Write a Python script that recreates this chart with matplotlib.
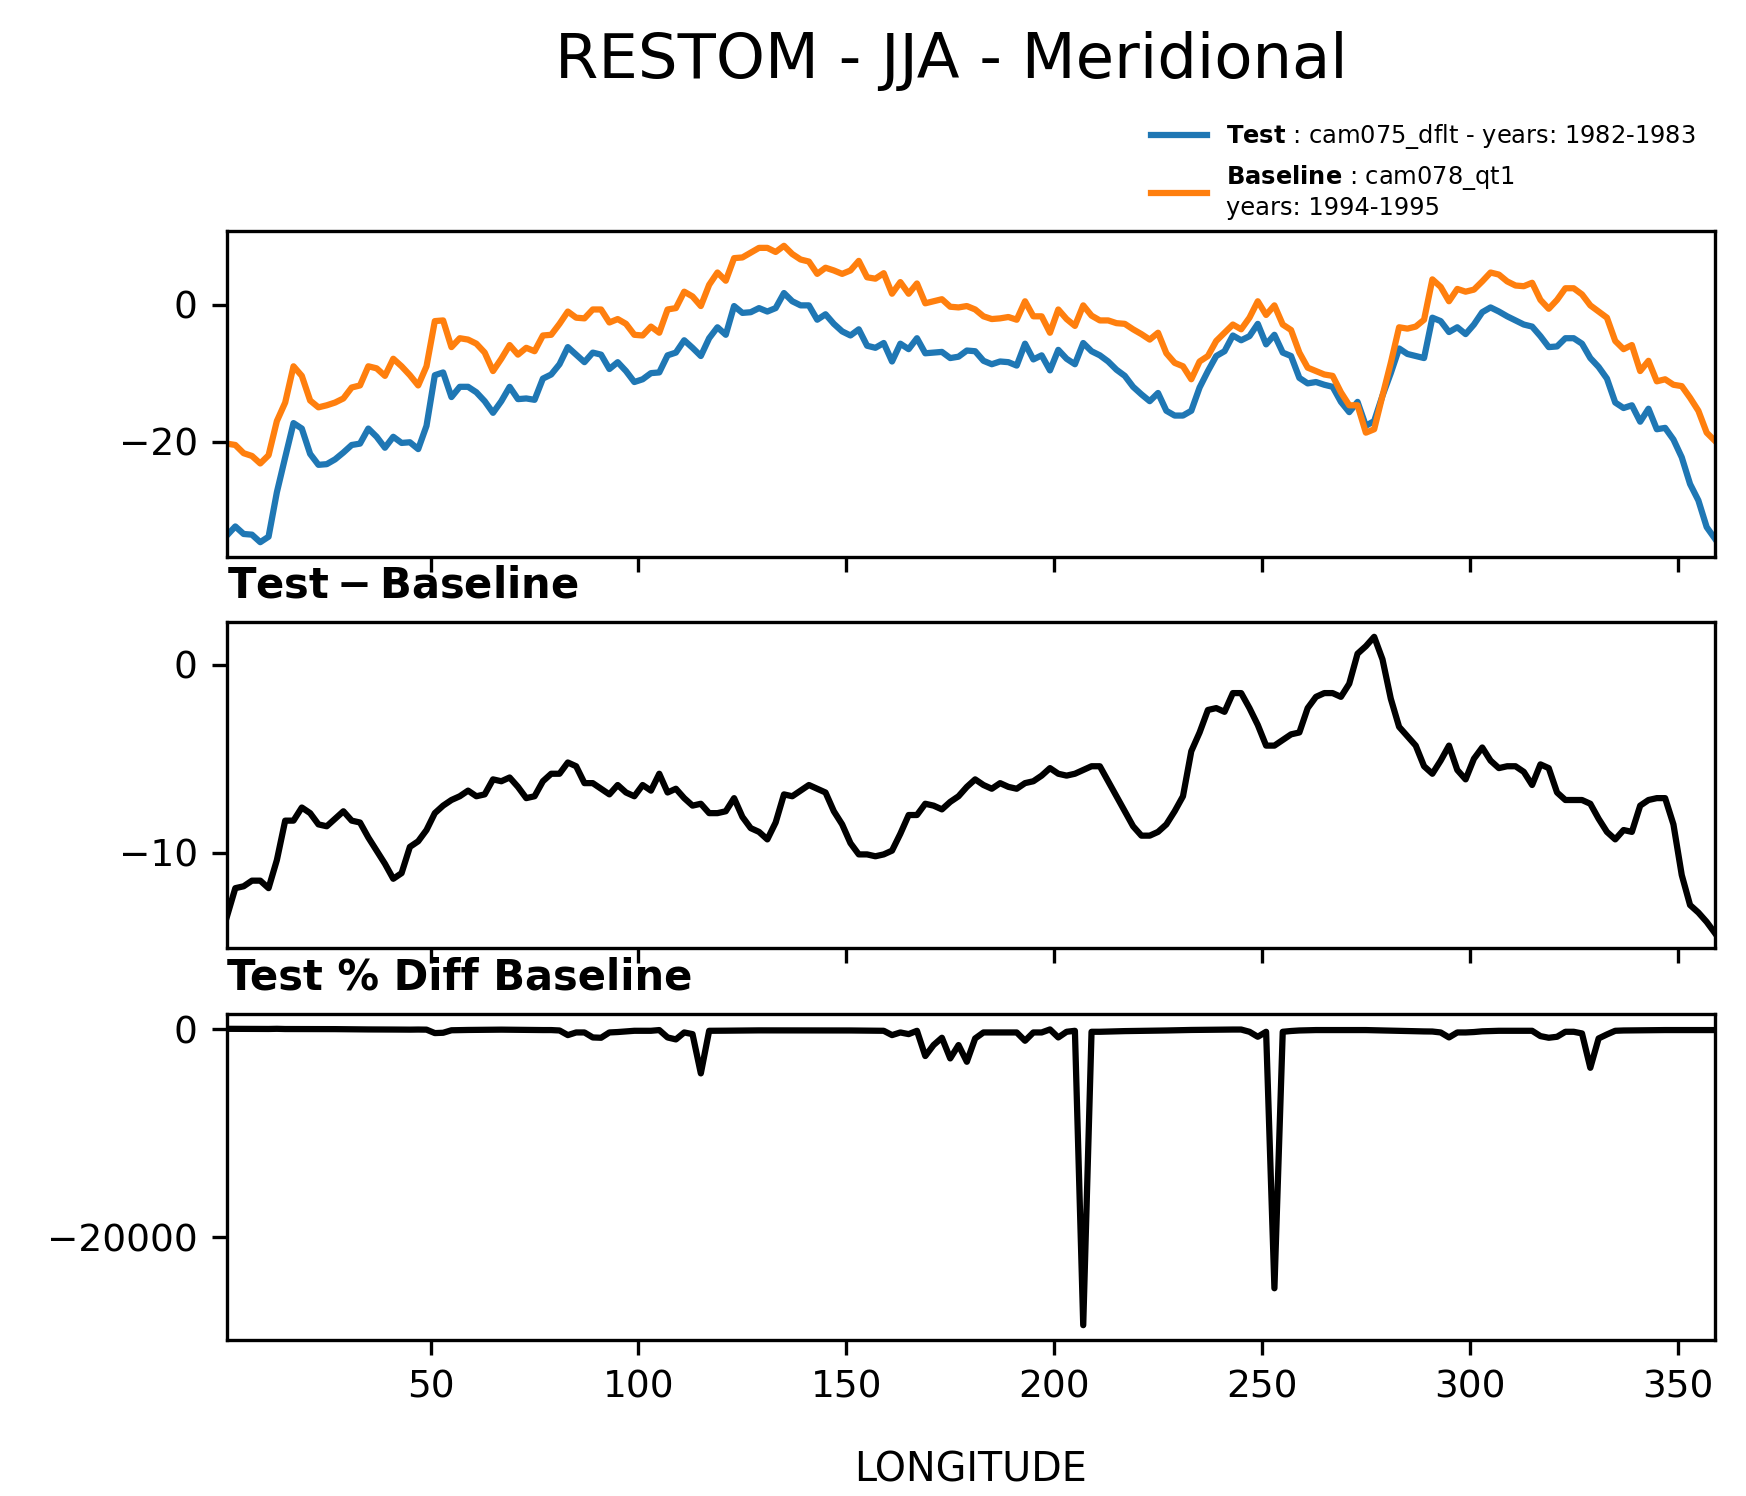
import matplotlib
matplotlib.use("Agg")
import matplotlib.pyplot as plt
import numpy as np

# longitude grid (2 degree spacing)
lon = np.arange(1, 360, 2)

# RESTOM, test case (blue)
test = [
    -33.7, -32.4, -33.5, -33.6, -34.7, -33.9, -27.4, -22.3, -17.3, -18.1,
    -21.8, -23.4, -23.3, -22.6, -21.6, -20.5, -20.3, -18.1, -19.3, -20.9,
    -19.3, -20.2, -20.1, -21.1, -17.7, -10.3, -9.9, -13.5, -12.0, -12.0,
    -12.8, -14.1, -15.8, -14.1, -12.0, -13.8, -13.7, -13.9, -10.8, -10.2,
    -8.7, -6.2, -7.3, -8.4, -7.0, -7.3, -9.4, -8.4, -9.7, -11.3,
    -10.9, -10.0, -9.9, -7.4, -7.0, -5.2, -6.3, -7.5, -4.9, -3.3,
    -4.4, -0.2, -1.2, -1.1, -0.5, -1.0, -0.5, 1.7, 0.5, -0.1,
    -0.1, -2.2, -1.4, -2.8, -3.9, -4.5, -3.6, -6.0, -6.3, -5.6,
    -8.3, -5.7, -6.5, -4.9, -7.1, -7.0, -6.9, -7.8, -7.6, -6.7,
    -6.8, -8.2, -8.7, -8.3, -8.4, -8.9, -5.7, -8.0, -7.4, -9.6,
    -6.6, -7.9, -8.7, -5.6, -6.8, -7.4, -8.3, -9.5, -10.4, -12.0,
    -13.1, -14.1, -12.9, -15.5, -16.2, -16.2, -15.5, -12.1, -9.7, -7.5,
    -6.8, -4.5, -5.2, -4.6, -2.8, -5.8, -4.4, -7.0, -7.5, -10.7,
    -11.5, -11.3, -11.7, -12.0, -14.2, -15.7, -14.2, -17.7, -17.0, -13.3,
    -10.0, -6.4, -7.2, -7.5, -7.8, -1.9, -2.4, -4.0, -3.3, -4.3,
    -2.9, -1.1, -0.4, -1.0, -1.7, -2.3, -2.9, -3.2, -4.6, -6.2,
    -6.1, -4.9, -4.9, -5.7, -7.8, -9.1, -10.8, -14.3, -15.1, -14.7,
    -17.1, -15.2, -18.2, -18.0, -19.7, -22.3, -26.2, -28.6, -32.5, -34.2,
]

# RESTOM, baseline case (orange)
base = [
    -20.3, -20.5, -21.7, -22.1, -23.2, -22.0, -17.0, -14.3, -9.0, -10.4,
    -14.0, -15.0, -14.7, -14.3, -13.7, -12.1, -11.8, -9.0, -9.3, -10.4,
    -7.9, -9.0, -10.3, -11.8, -9.0, -2.4, -2.3, -6.2, -4.9, -5.1,
    -5.7, -7.0, -9.7, -7.9, -5.9, -7.3, -6.3, -6.8, -4.5, -4.4,
    -2.8, -1.0, -1.9, -2.0, -0.7, -0.7, -2.6, -2.1, -2.8, -4.4,
    -4.5, -3.2, -4.1, -0.7, -0.5, 1.9, 1.2, -0.2, 2.9, 4.7,
    3.5, 6.8, 6.9, 7.6, 8.3, 8.3, 7.7, 8.6, 7.4, 6.6,
    6.3, 4.5, 5.4, 5.0, 4.5, 5.0, 6.4, 4.0, 3.8, 4.6,
    1.6, 3.3, 1.6, 3.1, 0.2, 0.5, 0.8, -0.3, -0.4, -0.2,
    -0.7, -1.7, -2.1, -2.0, -1.8, -2.2, 0.5, -1.7, -1.7, -4.1,
    -0.7, -2.1, -3.1, -0.1, -1.6, -2.3, -2.3, -2.7, -2.8, -3.6,
    -4.3, -5.1, -4.1, -7.1, -8.5, -9.0, -10.9, -8.3, -7.5, -5.3,
    -4.1, -2.9, -3.6, -1.9, 0.5, -1.5, -0.1, -2.9, -3.7, -7.0,
    -9.2, -9.7, -10.2, -10.4, -12.8, -14.7, -14.7, -18.7, -18.2, -13.3,
    -8.5, -3.3, -3.5, -3.2, -2.2, 3.7, 2.6, 0.5, 2.3, 1.9,
    2.2, 3.4, 4.7, 4.4, 3.4, 2.8, 2.7, 3.2, 0.7, -0.6,
    0.7, 2.4, 2.4, 1.5, -0.1, -1.0, -1.9, -5.3, -6.5, -5.9,
    -9.7, -8.2, -11.2, -10.9, -11.7, -11.9, -13.6, -15.5, -18.7, -19.9,
]

# test - baseline
diff = [
    -13.4, -11.9, -11.8, -11.5, -11.5, -11.9, -10.4, -8.3, -8.3, -7.6,
    -7.9, -8.5, -8.6, -8.2, -7.8, -8.3, -8.4, -9.2, -9.9, -10.6,
    -11.4, -11.1, -9.7, -9.4, -8.8, -7.9, -7.5, -7.2, -7.0, -6.7,
    -7.0, -6.9, -6.1, -6.2, -6.0, -6.5, -7.1, -7.0, -6.2, -5.8,
    -5.8, -5.2, -5.4, -6.3, -6.3, -6.6, -6.9, -6.4, -6.8, -7.0,
    -6.4, -6.7, -5.8, -6.8, -6.6, -7.1, -7.5, -7.4, -7.9, -7.9,
    -7.8, -7.1, -8.1, -8.7, -8.9, -9.3, -8.4, -6.9, -7.0, -6.7,
    -6.4, -6.6, -6.8, -7.8, -8.5, -9.5, -10.1, -10.1, -10.2, -10.1,
    -9.9, -9.0, -8.0, -8.0, -7.4, -7.5, -7.7, -7.3, -7.0, -6.5,
    -6.1, -6.4, -6.6, -6.3, -6.5, -6.6, -6.3, -6.2, -5.9, -5.5,
    -5.8, -5.9, -5.8, -5.6, -5.4, -5.4, -6.2, -7.0, -7.8, -8.6,
    -9.1, -9.1, -8.9, -8.5, -7.8, -7.0, -4.6, -3.6, -2.4, -2.3,
    -2.5, -1.5, -1.5, -2.3, -3.2, -4.3, -4.3, -4.0, -3.7, -3.6,
    -2.3, -1.7, -1.5, -1.5, -1.7, -1.0, 0.6, 1.0, 1.5, 0.3,
    -1.8, -3.3, -3.8, -4.3, -5.4, -5.8, -5.1, -4.3, -5.6, -6.1,
    -5.0, -4.4, -5.1, -5.5, -5.4, -5.4, -5.7, -6.4, -5.3, -5.5,
    -6.8, -7.2, -7.2, -7.2, -7.4, -8.2, -8.9, -9.3, -8.8, -8.9,
    -7.5, -7.2, -7.1, -7.1, -8.5, -11.2, -12.8, -13.2, -13.7, -14.3,
]

# test % diff baseline
pct = [
    60, 55, 55, 50, 50, 45, 60, 40, 40, 30,
    30, 30, 30, 30, 20, 20, 10, 0, 0, -10,
    -10, -20, -20, -10, -20, -350, -320, -80, -60, -50,
    -40, -30, -30, -20, -30, -40, -40, -50, -60, -60,
    -100, -545, -290, -290, -770, -800, -290, -250, -190, -130,
    -130, -130, -60, -770, -960, -290, -450, -4230, -130, -130,
    -120, -110, -100, -100, -90, -90, -80, -80, -80, -80,
    -80, -80, -90, -90, -100, -100, -110, -120, -130, -130,
    -545, -290, -450, -130, -2560, -1500, -800, -2790, -1500, -3110,
    -865, -290, -290, -290, -290, -290, -1090, -290, -290, 0,
    -770, -225, -130, -28450, -225, -225, -200, -180, -160, -150,
    -140, -130, -120, -100, -80, -60, -50, -40, -30, -20,
    -10, -10, -10, -225, -705, -225, -24900, -225, -150, -100,
    -80, -60, -60, -60, -60, -60, -60, -60, -80, -100,
    -120, -140, -160, -170, -190, -200, -290, -770, -290, -290,
    -250, -180, -150, -130, -130, -130, -130, -130, -640, -800,
    -705, -225, -225, -385, -3690, -865, -480, -130, -100, -90,
    -80, -70, -60, -60, -60, -60, -60, -60, -60, -60,
]

W, H = 1746, 1496
fig = plt.figure(figsize=(W / 300, H / 300), dpi=300)

left = 227 / W
width = (1715 - 227) / W
ph = 326 / H
ax1 = fig.add_axes([left, 1 - 557 / H, width, ph])
ax2 = fig.add_axes([left, 1 - 948 / H, width, ph], sharex=ax1)
ax3 = fig.add_axes([left, 1 - 1340 / H, width, ph], sharex=ax1)

ax1.plot(lon, test, color='#1f77b4', lw=1.5,
         label=r'$\bf{Test}$ : cam075_dflt - years: 1982-1983')
ax1.plot(lon, base, color='#ff7f0e', lw=1.5,
         label=r'$\bf{Baseline}$ : cam078_qt1' + '\nyears: 1994-1995')
ax1.set_yticks([-20, 0])

ax2.plot(lon, diff, color='k', lw=1.5)
ax2.set_yticks([-10, 0])
ax2.set_title(r'$\bf{Test - Baseline}$', loc='left', fontsize=10)

ax3.plot(lon, pct, color='k', lw=1.5)
ax3.set_yticks([-20000, 0])
ax3.set_title('Test % Diff Baseline', loc='left', fontsize=10, fontweight='bold')
ax3.set_xlabel('LONGITUDE', fontsize=9.5, labelpad=11)

ax1.set_xlim(lon.min(), lon.max())
for ax in (ax1, ax2, ax3):
    ax.tick_params(labelsize=9)
for ax in (ax1, ax2):
    ax.tick_params(labelbottom=False)

fig.legend(loc='upper left', bbox_to_anchor=(1151 / W, 1 - 122 / H),
           frameon=False, fontsize=5.8, borderpad=0, borderaxespad=0,
           handlelength=2.3)

fig.text(0.545, 1 - 78 / H, 'RESTOM - JJA - Meridional', fontsize=15,
         ha='center', va='baseline')

fig.savefig('out.png', dpi=300)
